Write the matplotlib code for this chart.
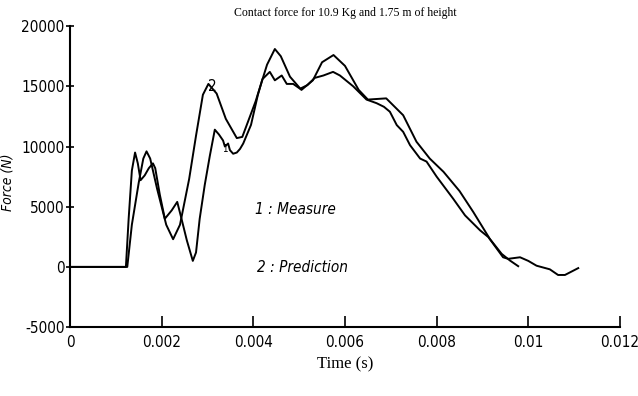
import matplotlib
matplotlib.use("Agg")
import matplotlib.pyplot as plt

plt.rcParams['axes.unicode_minus'] = False

# measured contact force (curve 1)
t_measure = [0, 0.00122, 0.00128, 0.00135, 0.00142, 0.00148, 0.00154, 0.00163, 0.00172, 0.00181,
             0.00186, 0.00196, 0.00207, 0.00222, 0.00234, 0.00242, 0.00255, 0.00268, 0.00275,
             0.00283, 0.00294, 0.00305, 0.00316, 0.00325, 0.00334, 0.00338, 0.00345, 0.00349,
             0.00356, 0.00364, 0.00371, 0.00378, 0.00395, 0.0041, 0.0042, 0.00436, 0.00447,
             0.00462, 0.00473, 0.00487, 0.00502, 0.00518, 0.00534, 0.00553, 0.00574, 0.00589,
             0.00618, 0.00647, 0.00669, 0.00685, 0.00698, 0.00713, 0.00727, 0.00742, 0.00764,
             0.00778, 0.008, 0.00836, 0.00862, 0.00895, 0.00913, 0.00945, 0.00956,
             0.00982, 0.01000, 0.01018, 0.01047, 0.01065, 0.0108, 0.01109]
f_measure = [0, 0, 4000, 8000, 9500, 8600, 7200, 7600, 8200, 8600,
             8200, 6000, 4000, 4700, 5400, 4200, 2200, 500, 1200,
             4000, 6800, 9200, 11400, 11000, 10500, 10000, 10250, 9700,
             9400, 9500, 9800, 10250, 11800, 14300, 15600, 16200, 15500,
             15900, 15200, 15200, 14800, 15100, 15700, 15900, 16200, 15900,
             15000, 13900, 13600, 13300, 12890, 11780, 11220, 10110, 9000,
             8750, 7500, 5670, 4280, 3030, 2470, 800, 670,
             800, 500, 100, -200, -670, -670, -100]

# predicted contact force (curve 2)
t_predict = [0, 0.00125, 0.00135, 0.0015, 0.0016, 0.00167, 0.00175, 0.0019, 0.0021, 0.00225,
             0.0024, 0.0026, 0.00275, 0.0029, 0.00302, 0.0032, 0.0034, 0.00364, 0.00376,
             0.00405, 0.0043, 0.00447, 0.0046, 0.0048, 0.00505, 0.0053, 0.0055, 0.00575,
             0.006, 0.0063, 0.0065, 0.0069, 0.00727, 0.00756, 0.00785, 0.00815, 0.0085,
             0.0088, 0.00916, 0.00942, 0.0096, 0.00978]
f_predict = [0, 0, 3500, 7000, 9000, 9600, 9000, 6500, 3500, 2300,
             3500, 7300, 10900, 14300, 15200, 14400, 12300, 10700, 10800,
             13750, 16800, 18100, 17500, 15800, 14700, 15500, 17000, 17600,
             16700, 14700, 13900, 14000, 12600, 10400, 9000, 7900, 6300,
             4560, 2330, 1080, 530, 60]

x_ticks = [0, 0.002, 0.004, 0.006, 0.008, 0.01, 0.012]
x_labels = ['0', '0.002', '0.004', '0.006', '0.008', '0.01', '0.012']
y_ticks = [-5000, 0, 5000, 10000, 15000, 20000]

fig = plt.figure(figsize=(6.38, 3.96), dpi=100)
ax = fig.add_axes([0.1097, 0.174, 0.862, 0.76])

ax.plot(t_measure, f_measure, color='black', lw=1.4)
ax.plot(t_predict, f_predict, color='black', lw=1.4)

ax.set_xlim(0, 0.012)
ax.set_ylim(-5000, 20000)
ax.set_xticks(x_ticks)
ax.set_xticklabels(x_labels)
ax.set_yticks(y_ticks)
for s in ['top', 'right']:
    ax.spines[s].set_visible(False)
for s in ['left', 'bottom']:
    ax.spines[s].set_linewidth(1.5)
ax.tick_params(axis='x', direction='in', length=8, width=1.2, pad=6)
ax.tick_params(axis='y', direction='inout', length=6, width=1.2, pad=1)
for lab in ax.get_xticklabels() + ax.get_yticklabels():
    lab.set_fontfamily('DejaVu Sans')
    lab.set_fontstretch('condensed')
    lab.set_fontsize(11)

ax.set_title('Contact force for 10.9 Kg and 1.75 m of height',
             fontfamily='Liberation Serif', fontsize=8.5, x=0.5, pad=7)
ax.set_xlabel('Time (s)', fontfamily='Liberation Serif', fontsize=12, labelpad=4)
ax.set_ylabel('Force (N)', fontfamily='DejaVu Sans', fontstretch='condensed',
              fontstyle='italic', fontsize=10)
ax.yaxis.set_label_coords(-0.1, 0.48)

ax.text(0.0031, 15000, '2', fontfamily='DejaVu Sans', fontstretch='condensed',
        fontsize=11, ha='center', va='center')
ax.text(0.00338, 9830, '1', fontfamily='DejaVu Sans', fontstretch='condensed',
        fontsize=7, ha='center', va='center')
ax.text(0.00404, 4750, '1 : Measure', fontfamily='DejaVu Sans', fontstretch='condensed',
        fontstyle='italic', fontsize=11, va='center')
ax.text(0.00408, -80, '2 : Prediction', fontfamily='DejaVu Sans', fontstretch='condensed',
        fontstyle='italic', fontsize=11, va='center')

fig.savefig('out.png', dpi=100)
